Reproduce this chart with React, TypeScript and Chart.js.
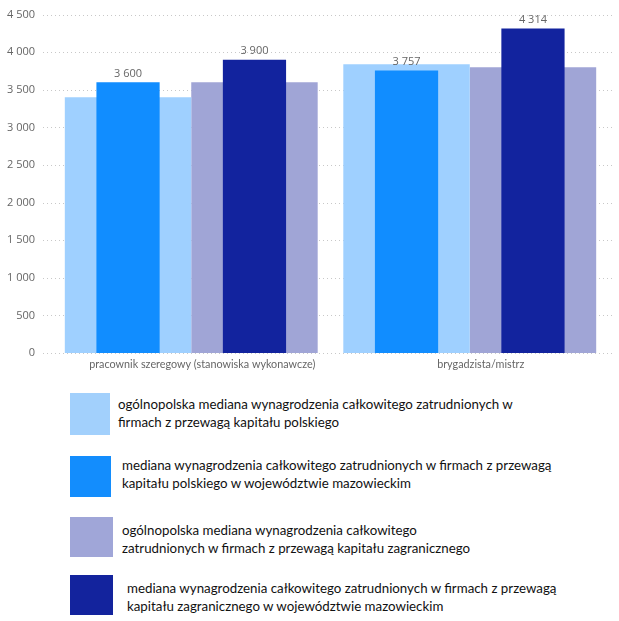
import React, { useEffect, useRef } from "react";
import { Chart, registerables } from "chart.js";

Chart.register(...registerables);

const categories = ["pracownik szeregowy (stanowiska wykonawcze)", "brygadzista/mistrz"];
const plNational = [3400, 3840];
const plMazowieckie = [3600, 3757];
const zagrNational = [3600, 3800];
const zagrMazowieckie = [3900, 4314];
const yTicks = [0, 500, 1000, 1500, 2000, 2500, 3000, 3500, 4000, 4500];

const legendItems = [
  {
    color: "#A2D0FC",
    lines: ["ogólnopolska mediana wynagrodzenia całkowitego zatrudnionych w", "firmach z przewagą kapitału polskiego"],
    sq: [70, 393, 40, 42], text: [118, 396],
  },
  {
    color: "#138DFD",
    lines: ["mediana wynagrodzenia całkowitego zatrudnionych w firmach z przewagą", "kapitału polskiego w województwie mazowieckim"],
    sq: [70, 456, 41, 41], text: [122, 457],
  },
  {
    color: "#A0A6D8",
    lines: ["ogólnopolska mediana wynagrodzenia całkowitego", "zatrudnionych w firmach z przewagą kapitału zagranicznego"],
    sq: [70, 517, 43, 40], text: [122, 522],
  },
  {
    color: "#13239D",
    lines: ["mediana wynagrodzenia całkowitego zatrudnionych w firmach z przewagą", "kapitału zagranicznego w województwie mazowieckim"],
    sq: [70, 575, 43, 40], text: [127, 580],
  },
];

const fmt = (v: number) => {
  const s = Math.round(v).toString();
  return s.replace(/\B(?=(\d{3})+(?!\d))/g, " ");
};

export default function App() {
  const ref = useRef<HTMLCanvasElement | null>(null);
  useEffect(() => {
    if (!ref.current) return;
    const gridPlugin = {
      id: "dottedGrid",
      beforeDatasetsDraw(chart: any) {
        const { ctx } = chart;
        const y = chart.scales.y;
        ctx.save();
        ctx.strokeStyle = "#c8c8c8";
        ctx.lineWidth = 1;
        ctx.setLineDash([1, 3]);
        yTicks.forEach((t) => {
          const py = Math.round(y.getPixelForValue(t)) + 0.5;
          ctx.beginPath();
          ctx.moveTo(43, py);
          ctx.lineTo(613, py);
          ctx.stroke();
        });
        ctx.restore();
      },
    };
    const labelPlugin = {
      id: "valueLabels",
      afterDatasetsDraw(chart: any) {
        const { ctx } = chart;
        ctx.save();
        ctx.font = "11px 'Open Sans'";
        ctx.fillStyle = "#666666";
        ctx.textAlign = "center";
        ctx.textBaseline = "bottom";
        [0, 1].forEach((di) => {
          const meta = chart.getDatasetMeta(di);
          const data = chart.data.datasets[di].data as number[];
          meta.data.forEach((el: any, i: number) => {
            ctx.fillText(fmt(data[i]), el.x, el.y - 3);
          });
        });
        ctx.restore();
      },
    };
    const chart = new Chart(ref.current, {
      type: "bar",
      data: {
        labels: categories,
        datasets: [
          { label: "mediana PL mazowieckie", data: plMazowieckie, backgroundColor: "#118DFF", stack: "pl", barPercentage: 0.5, categoryPercentage: 0.908 },
          { label: "mediana zagr mazowieckie", data: zagrMazowieckie, backgroundColor: "#12239E", stack: "zagr", barPercentage: 0.5, categoryPercentage: 0.908 },
          { label: "ogólnopolska PL", data: plNational, backgroundColor: "#9FD0FF", stack: "pl", barPercentage: 1, categoryPercentage: 0.908 },
          { label: "ogólnopolska zagr", data: zagrNational, backgroundColor: "#A0A5D6", stack: "zagr", barPercentage: 1, categoryPercentage: 0.908 },
        ],
      },
      options: {
        animation: false,
        responsive: false,
        maintainAspectRatio: false,
        layout: { padding: { left: 0, right: 10, top: 4, bottom: 0 } },
        plugins: { legend: { display: false }, tooltip: { enabled: false } },
        scales: {
          x: {
            type: "category",
            offset: true,
            grid: { display: false, drawTicks: false },
            border: { display: false },
            ticks: { color: "#666666", font: { family: "Lato", size: 10.8 }, padding: 5, labelOffset: 11, maxRotation: 0 },
            afterFit: (s: any) => { s.height = 27; },
          },
          y: {
            min: 0,
            max: 4500,
            stacked: false,
            afterBuildTicks: (s: any) => { s.ticks = yTicks.map((v) => ({ value: v })); },
            grid: { display: false, drawTicks: false },
            border: { display: false },
            ticks: { color: "#666666", font: { family: "'Open Sans'", size: 11 }, padding: 17, callback: (v: any) => fmt(Number(v)) },
            afterFit: (s: any) => { s.width = 52; },
          },
        },
      },
      plugins: [gridPlugin, labelPlugin],
    } as any);
    return () => chart.destroy();
  }, []);

  return (
    <div style={{ position: "absolute", left: 0, top: 0, width: 619, height: 621, background: "#fff", overflow: "hidden" }}>
      <canvas ref={ref} width={619} height={389} style={{ position: "absolute", left: 0, top: -9, width: 619, height: 389 }} />
      {legendItems.map((it, i) => (
        <React.Fragment key={i}>
          <div style={{ position: "absolute", left: it.sq[0], top: it.sq[1], width: it.sq[2], height: it.sq[3], background: it.color }} />
          <div style={{ position: "absolute", left: it.text[0], top: it.text[1], fontFamily: "Lato, sans-serif", fontSize: 13.3, lineHeight: "17.5px", color: "#111", whiteSpace: "nowrap" }}>
            {it.lines.map((l, j) => (<div key={j}>{l}</div>))}
          </div>
        </React.Fragment>
      ))}
    </div>
  );
}
